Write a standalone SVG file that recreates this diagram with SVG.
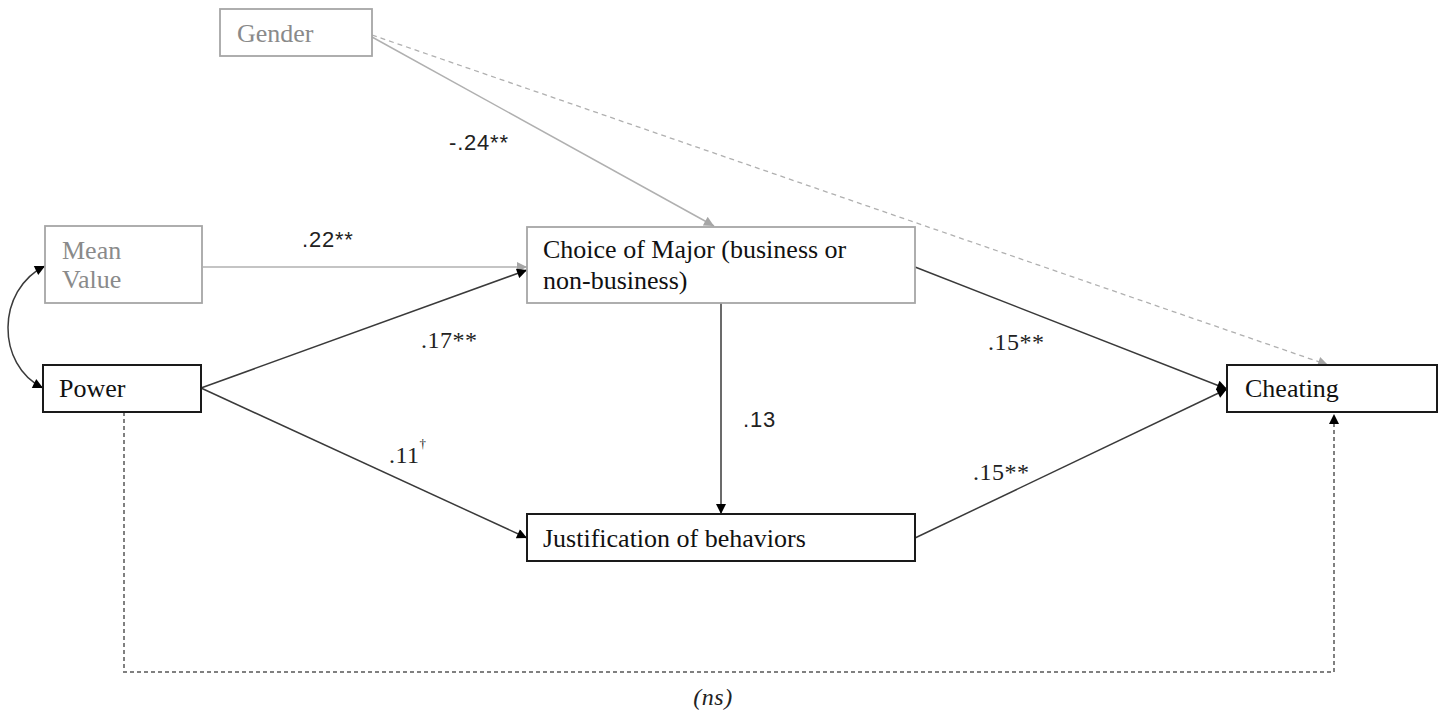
<svg xmlns="http://www.w3.org/2000/svg" width="1445" height="713" viewBox="0 0 1445 713">
<style>
.bg{fill:#fff}
.gbox{fill:#fff;stroke:#a6a6a6;stroke-width:1.8}
.kbox{fill:#fff;stroke:#1a1a1a;stroke-width:2}
.nt{font-family:"Liberation Serif","Times New Roman",serif;font-size:26px;fill:#111}
.gt{font-family:"Liberation Serif","Times New Roman",serif;font-size:26px;fill:#8a8a8a}
.lbl{font-family:"Liberation Serif","Times New Roman",serif;font-size:24px;fill:#222;letter-spacing:0.5px}
.lbs{font-family:"Liberation Sans",Arial,sans-serif;font-size:22px;fill:#222;letter-spacing:0.8px}
.k{fill:none;stroke:#3a3a3a;stroke-width:1.5}
.g{fill:none;stroke:#b0b0b0;stroke-width:1.5}
.gd{fill:none;stroke:#b0b0b0;stroke-width:1.3;stroke-dasharray:5,4}
.kd{fill:none;stroke:#808080;stroke-width:2;stroke-dasharray:4,3}
</style>
<defs>
<marker id="ak" viewBox="0 0 10 10" refX="10" refY="5" markerWidth="12" markerHeight="10" markerUnits="userSpaceOnUse" orient="auto-start-reverse"><path d="M0,0 L10,5 L0,10 z" fill="#000"/></marker>
<marker id="ag" viewBox="0 0 10 10" refX="10" refY="5" markerWidth="12" markerHeight="10" markerUnits="userSpaceOnUse" orient="auto"><path d="M0,0 L10,5 L0,10 z" fill="#a6a6a6"/></marker>
</defs>
<rect class="bg" x="0" y="0" width="1445" height="713"/>
<g id="connectors">
<path class="g" d="M372,37 L714,226" marker-end="url(#ag)"/>
<path class="gd" d="M372,35 L1328,365" marker-end="url(#ag)"/>
<path class="g" d="M203,267 L527,267" marker-end="url(#ag)"/>
<path class="k" d="M201,388 L527,270" marker-end="url(#ak)"/>
<path class="k" d="M201,388 L527,538" marker-end="url(#ak)"/>
<path class="k" d="M721,303 L721,514" marker-end="url(#ak)"/>
<path class="k" d="M915,267 L1227,389" marker-end="url(#ak)"/>
<path class="k" d="M915,538 L1227,389" marker-end="url(#ak)"/>
<path class="k" d="M45,266 C-4,290 -4,365 43,388" marker-start="url(#ak)" marker-end="url(#ak)"/>
<path class="kd" d="M124,412 L124,672 L1334,672 L1334,414" marker-end="url(#ak)"/>
<text class="lbs" x="449" y="150">-.24**</text>
<text class="lbs" x="302" y="247">.22**</text>
<text class="lbl" x="421" y="348">.17**</text>
<text class="lbl" x="389" y="463">.11<tspan font-size="13" dy="-15">†</tspan></text>
<text class="lbs" x="743" y="427">.13</text>
<text class="lbl" x="988" y="350">.15**</text>
<text class="lbl" x="973" y="480">.15**</text>
<text class="lbl" x="713" y="705" text-anchor="middle" font-style="italic">(ns)</text>
</g>
<g id="gender">
<rect class="gbox" x="220" y="9" width="152" height="47"/>
<text class="gt" x="237" y="42">Gender</text>
</g>
<g id="mean-value">
<rect class="gbox" x="45" y="226" width="157" height="77"/>
<text class="gt" x="62" y="259">Mean</text>
<text class="gt" x="62" y="288">Value</text>
</g>
<g id="choice">
<rect class="gbox" x="527" y="227" width="388" height="76"/>
<text class="nt" x="543" y="258">Choice of Major (business or</text>
<text class="nt" x="543" y="289">non-business)</text>
</g>
<g id="power">
<rect class="kbox" x="43" y="365" width="158" height="47"/>
<text class="nt" x="59" y="397">Power</text>
</g>
<g id="justification">
<rect class="kbox" x="527" y="514" width="388" height="47"/>
<text class="nt" x="543" y="547">Justification of behaviors</text>
</g>
<g id="cheating">
<rect class="kbox" x="1227" y="365" width="210" height="47"/>
<text class="nt" x="1245" y="397">Cheating</text>
</g>
</svg>
